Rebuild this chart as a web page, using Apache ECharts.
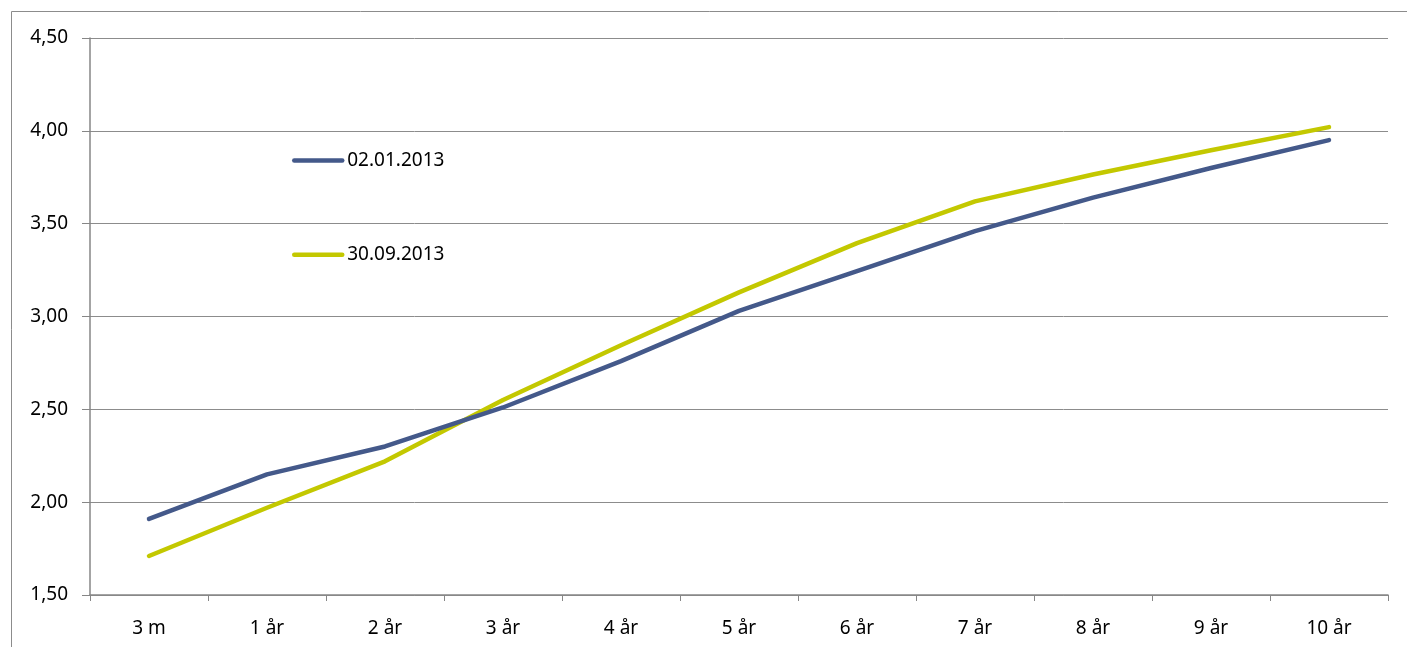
<!DOCTYPE html>
<html>
<head>
<meta charset="utf-8">
<script src="https://cdn.jsdelivr.net/npm/echarts@6/dist/echarts.min.js"></script>
<style>
  html, body { margin: 0; padding: 0; background: #ffffff; }
  #chart { width: 1407px; height: 647px; }
</style>
</head>
<body>
<div id="chart"></div>
<script>
// Maturities on the category axis
const maturities = ['3 m', '1 år', '2 år', '3 år', '4 år', '5 år', '6 år', '7 år', '8 år', '9 år', '10 år'];

// Yield curves (percent)
const curveJan = [1.91, 2.15, 2.30, 2.51, 2.76, 3.03, 3.245, 3.46, 3.64, 3.80, 3.95];
const curveSep = [1.71, 1.97, 2.22, 2.55, 2.845, 3.13, 3.395, 3.62, 3.765, 3.895, 4.02];

const seriesNames = ['02.01.2013', '30.09.2013'];
const seriesColors = ['#44598A', '#C3C800'];

// Value axis range
const yMin = 1.5;
const yMax = 4.5;
const yStep = 0.5;

const fontFamily = '"Noto Sans", "Open Sans", sans-serif';
const fontSize = 19;
const axisGray = '#868686';

const chart = echarts.init(document.getElementById('chart'), null, { renderer: 'canvas' });

chart.setOption({
  animation: false,
  backgroundColor: '#ffffff',
  graphic: [{
    type: 'rect',
    shape: { x: 11.5, y: 11.5, width: 1420, height: 660 },
    style: { fill: 'none', stroke: '#8c8c8c', lineWidth: 1 },
    silent: true
  }],
  grid: { left: 90, right: 19, top: 38, bottom: 52 },
  legend: {
    orient: 'vertical',
    left: 287,
    top: 146,
    itemWidth: 48,
    itemHeight: 24,
    itemGap: 75,
    itemStyle: { opacity: 0 },
    lineStyle: { width: 4.5, cap: 'round' },
    textStyle: { fontFamily, fontSize, color: '#000000' },
    data: seriesNames
  },
  xAxis: {
    type: 'category',
    data: maturities,
    boundaryGap: true,
    axisLine: { show: true, lineStyle: { color: axisGray, width: 1.5 } },
    axisTick: { show: true, length: 6, alignWithLabel: false, lineStyle: { color: axisGray } },
    axisLabel: { margin: 24, fontFamily, fontSize, color: '#000000' },
    splitLine: { show: false }
  },
  yAxis: {
    type: 'value',
    min: yMin,
    max: yMax,
    interval: yStep,
    axisLine: { show: true, lineStyle: { color: axisGray, width: 1.5 } },
    axisTick: { show: true, length: 8, lineStyle: { color: axisGray } },
    axisLabel: {
      margin: 22,
      fontFamily,
      fontSize,
      color: '#000000',
      formatter: v => v.toFixed(2).replace('.', ',')
    },
    splitLine: { show: true, lineStyle: { color: '#8c8c8c', width: 1 } }
  },
  series: [
    {
      name: seriesNames[0],
      type: 'line',
      data: curveJan,
      symbol: 'none',
      lineStyle: { color: seriesColors[0], width: 4.5, cap: 'round', join: 'round' },
      itemStyle: { color: seriesColors[0] },
      z: 3
    },
    {
      name: seriesNames[1],
      type: 'line',
      data: curveSep,
      symbol: 'none',
      lineStyle: { color: seriesColors[1], width: 4.5, cap: 'round', join: 'round' },
      itemStyle: { color: seriesColors[1] },
      z: 2
    }
  ]
});
</script>
</body>
</html>
